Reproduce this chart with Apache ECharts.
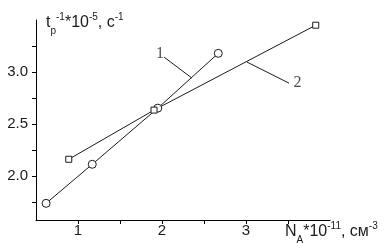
<!DOCTYPE html>
<html><head><meta charset="utf-8">
<script src="https://cdn.jsdelivr.net/npm/echarts@6/dist/echarts.min.js"></script>
<style>html,body{margin:0;padding:0;background:#fff}#c{width:387px;height:249px}</style>
</head><body><div id="c"></div>
<script>
// Curve 1 (circles)
const x1 = [0.62, 1.17, 1.95, 2.67];
const y1 = [1.74, 2.115, 2.654, 3.18];
// Curve 2 (squares)
const x2 = [0.89, 1.905, 3.83];
const y2 = [2.163, 2.635, 3.45];
// Ticks / labels
const xTicks = [1, 1.5, 2, 2.5, 3, 3.5];
const xLabels = [1, 2, 3];
const yTicks = [1.75, 2, 2.25, 2.5, 2.75, 3, 3.25];
const yLabels = [2, 2.5, 3];
// Annotation leaders (data coords) and their labels
const leader1 = [[2.024, 3.144], [2.357, 2.942]];
const leader2 = [[3.012, 3.096], [3.512, 2.894]];
const callouts = [[1.976, 3.173, '1'], [3.613, 2.894, '2']];

const INK = '#1a1a1a';
const SANS = '"Liberation Sans", Arial, sans-serif';
const chart = echarts.init(document.getElementById('c'), null, {renderer: 'canvas'});

// measure-based rich axis titles
const ctx = document.createElement('canvas').getContext('2d');
function titleParts(parts, x0, base) {
  const els = [];
  let x = x0;
  parts.forEach(([t, size, dy]) => {
    const font = size + 'px ' + SANS;
    ctx.font = font;
    els.push({type: 'text', x: x, y: base + dy, silent: true,
      style: {text: t, font: font, fill: INK, verticalAlign: 'bottom', textAlign: 'left'}});
    x += ctx.measureText(t).width;
  });
  return els;
}
const M = 16, S = 10;
const yTitle = titleParts([
  ['t', M, 0], ['p', S, 5], ['-1', S, -9], ['*10', M, 0], ['-5', S, -9], [', c', M, 0], ['-1', S, -9]
], 46, 31);
const xTitle = titleParts([
  ['N', M, 0], ['A', S, 5], ['*10', M, 0], ['-11', S, -9], [', см', M, 0], ['-3', S, -9]
], 285, 240);

const lineStyle = {color: INK, width: 1};
chart.setOption({
  animation: false,
  grid: {left: 36, top: 20, right: 57, bottom: 29, containLabel: false, outerBoundsMode: 'none'},
  xAxis: {
    type: 'value', min: 0.5, max: 4,
    axisLine: {show: true, onZero: false, lineStyle: {color: '#000', width: 1}},
    axisTick: {show: true, customValues: xTicks, length: 4, lineStyle: {color: '#000'}},
    axisLabel: {customValues: xLabels, margin: 3, fontSize: 15, color: INK, fontFamily: SANS},
    splitLine: {show: false}
  },
  yAxis: {
    type: 'value', min: 1.58, max: 3.5,
    axisLine: {show: true, onZero: false, lineStyle: {color: '#000', width: 1}},
    axisTick: {show: true, customValues: yTicks, length: 4, lineStyle: {color: '#000'}},
    axisLabel: {customValues: yLabels, margin: 8, fontSize: 15, color: INK, fontFamily: SANS,
      formatter: v => v.toFixed(1)},
    splitLine: {show: false}
  },
  series: [
    {type: 'line', data: x1.map((v, i) => [v, y1[i]]), symbol: 'circle', symbolSize: 8,
      lineStyle: lineStyle, itemStyle: {color: '#fff', borderColor: INK, borderWidth: 1}, z: 3},
    {type: 'line', data: x2.map((v, i) => [v, y2[i]]), symbol: 'rect', symbolSize: 6,
      lineStyle: lineStyle, itemStyle: {color: '#fff', borderColor: INK, borderWidth: 1}, z: 3},
    {type: 'line', data: leader1, symbol: 'none', lineStyle: lineStyle, z: 2},
    {type: 'line', data: leader2, symbol: 'none', lineStyle: lineStyle, z: 2},
    {type: 'scatter', data: callouts.map(c => [c[0], c[1], c[2]]), symbolSize: 0,
      label: {show: true, position: 'inside', formatter: p => p.value[2], fontSize: 16,
        fontFamily: '"Liberation Serif", "Times New Roman", serif', color: INK}}
  ],
  graphic: yTitle.concat(xTitle)
});
</script></body></html>
